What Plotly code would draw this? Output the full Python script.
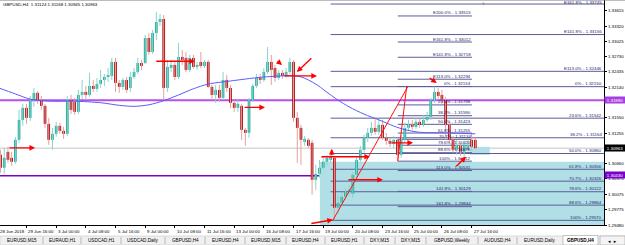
import plotly.graph_objects as go

# ---------------- data ----------------
header_text = "GBPUSD,H4  1.31124 1.31168 1.30945 1.30963"

opens = [1.31066,1.30835,1.30584,1.30892,1.30777,1.30700,1.31124,1.31509,1.31741,1.31548,
         1.31895,1.32030,1.31895,1.31779,1.31432,1.31124,1.31240,1.31394,1.31297,1.31240,
         1.31895,1.31856,1.31664,1.31991,1.32049,1.31991,1.32165,1.32107,1.32203,1.32280,
         1.32338,1.32358,1.32628,1.32223,1.32146,1.32280,1.32126,1.32338,1.32435,1.32608,
         1.32608,1.33090,1.32820,1.33187,1.33399,1.33457,1.32126,1.32512,1.32570,1.32338,
         1.32724,1.32705,1.32473,1.32705,1.32531,1.32628,1.32550,1.32628,1.32146,1.31991,
         1.32088,1.31934,1.32280,1.32126,1.31837,1.31741,1.31779,1.31316,1.31259,1.31895,
         1.32165,1.32319,1.32280,1.32435,1.32628,1.32512,1.32319,1.32416,1.32358,1.32435,
         1.32628,1.31548,1.31355,1.31085,1.31124,1.31066,1.30352,1.30468,1.30584,1.30700,
         1.30738,1.30777,1.29813,1.29909,1.30025,1.30121,1.30083,1.30449,1.30738,1.30931,
         1.31162,1.31259,1.31355,1.31278,1.31413,1.31162,1.31105,1.31047,1.31124,1.30835,
         1.31124,1.31355,1.31413,1.31374,1.31471,1.31413,1.31509,1.31567,1.31895,1.32049,
         1.31991,1.31895,1.31413,1.31124,1.30931,1.31008,1.30892,1.30931,1.31124,1.31124]
highs = [1.31124,1.30931,1.30969,1.30989,1.30892,1.31182,1.31702,1.31818,1.31818,1.31972,
         1.32126,1.32068,1.31972,1.31818,1.31548,1.31355,1.31471,1.31452,1.31374,1.31972,
         1.31991,1.31934,1.32088,1.32280,1.32165,1.32416,1.32280,1.32319,1.32473,1.32396,
         1.32512,1.32705,1.32705,1.32280,1.32319,1.32338,1.32435,1.32512,1.32705,1.32666,
         1.33148,1.33187,1.33245,1.33592,1.33553,1.33534,1.32666,1.32666,1.32628,1.32994,
         1.32859,1.32820,1.32763,1.32763,1.32628,1.32820,1.32666,1.32666,1.32184,1.32184,
         1.32184,1.32435,1.32377,1.32184,1.31895,1.31895,1.31818,1.31355,1.31934,1.32203,
         1.32396,1.32396,1.32512,1.32917,1.32763,1.32570,1.32473,1.32473,1.32512,1.32705,
         1.32666,1.31664,1.31413,1.31201,1.31162,1.31124,1.30642,1.30738,1.30796,1.30835,
         1.30854,1.30815,1.30063,1.30101,1.30198,1.30256,1.30507,1.30796,1.31008,1.31220,
         1.31355,1.31471,1.31548,1.31509,1.31509,1.31259,1.31162,1.31201,1.31162,1.31220,
         1.31452,1.31509,1.31509,1.31548,1.31529,1.31606,1.31664,1.31934,1.32150,1.32126,
         1.32088,1.31953,1.31471,1.31201,1.31124,1.31066,1.31105,1.31124,1.31259,1.31168]
lows = [1.30777,1.30488,1.30468,1.30680,1.30622,1.30661,1.31066,1.31394,1.31432,1.31490,
        1.31760,1.31818,1.31702,1.31355,1.31027,1.30931,1.31182,1.31240,1.31143,1.31201,
        1.31625,1.31606,1.31625,1.31914,1.31895,1.31953,1.32049,1.32049,1.32126,1.32165,
        1.32242,1.32280,1.32049,1.32030,1.32088,1.32030,1.32049,1.32300,1.32396,1.32473,
        1.32589,1.32763,1.32782,1.33052,1.33322,1.31895,1.32049,1.32435,1.32280,1.32300,
        1.32570,1.32435,1.32435,1.32493,1.32473,1.32512,1.32512,1.32126,1.31895,1.31837,
        1.31856,1.31895,1.32049,1.31741,1.31664,1.31664,1.31123,1.31008,1.31162,1.31856,
        1.32126,1.32203,1.32242,1.32396,1.32184,1.32242,1.32280,1.32300,1.32319,1.32396,
        1.31471,1.30680,1.30642,1.31008,1.30969,1.30063,1.30159,1.30391,1.30545,1.30642,
        1.30680,1.29570,1.29697,1.29851,1.29967,1.30044,1.30005,1.30391,1.30680,1.30873,
        1.31085,1.31201,1.31220,1.31220,1.31123,1.31027,1.30989,1.30969,1.30712,1.30777,
        1.31066,1.31297,1.31316,1.31336,1.31355,1.31374,1.31471,1.31509,1.31837,1.31914,
        1.31818,1.31123,1.31066,1.30873,1.30835,1.30815,1.30777,1.30892,1.30931,1.30945]
closes = [1.30835,1.30584,1.30777,1.30738,1.30700,1.31124,1.31509,1.31741,1.31548,1.31895,
          1.32030,1.31895,1.31779,1.31432,1.31124,1.31240,1.31394,1.31297,1.31240,1.31895,
          1.31702,1.31664,1.31991,1.32049,1.31991,1.32165,1.32107,1.32203,1.32280,1.32338,
          1.32358,1.32628,1.32223,1.32146,1.32280,1.32088,1.32338,1.32435,1.32608,1.32550,
          1.33090,1.32820,1.33187,1.33399,1.33457,1.32126,1.32531,1.32570,1.32338,1.32724,
          1.32666,1.32473,1.32705,1.32531,1.32570,1.32550,1.32628,1.32146,1.31991,1.32088,
          1.31934,1.32280,1.32126,1.31837,1.31741,1.31818,1.31316,1.31259,1.31895,1.32165,
          1.32319,1.32280,1.32435,1.32628,1.32473,1.32319,1.32416,1.32358,1.32435,1.32628,
          1.31548,1.31355,1.31124,1.31143,1.31008,1.30352,1.30468,1.30584,1.30700,1.30777,
          1.30796,1.29813,1.29909,1.30025,1.30121,1.30160,1.30449,1.30738,1.30931,1.31162,
          1.31259,1.31355,1.31278,1.31413,1.31162,1.31105,1.31047,1.31124,1.30835,1.31124,
          1.31355,1.31413,1.31374,1.31471,1.31413,1.31509,1.31567,1.31895,1.32049,1.31972,
          1.31895,1.31413,1.31124,1.30931,1.31008,1.30892,1.31027,1.31008,1.30989,1.30963]

ma_bars = [0, 5, 9, 14, 21, 28, 33, 37, 41, 45, 49, 53, 57, 63, 71, 78, 82, 86, 88.5, 92,
           95, 99, 103, 107, 110, 114, 120, 125, 129]
ma_values = [1.3214, 1.3201, 1.3191, 1.3187, 1.3187, 1.3184, 1.3179, 1.3177, 1.3180, 1.3188,
             1.3199, 1.3211, 1.3220, 1.3226, 1.3233, 1.3236, 1.3234, 1.3220, 1.3207, 1.3189,
             1.3176, 1.3162, 1.3151, 1.3139, 1.3132, 1.3127, 1.3126, 1.3125, 1.3124]

first_time_label = "28 Jun 2018"
time_labels = ["29 Jun 16:00", "3 Jul 00:00", "4 Jul 08:00", "5 Jul 16:00",
               "9 Jul 00:00", "10 Jul 08:00", "11 Jul 16:00", "13 Jul 00:00", "16 Jul 08:00",
               "17 Jul 16:00", "19 Jul 00:00", "20 Jul 08:00", "23 Jul 16:00", "25 Jul 00:00",
               "26 Jul 08:00", "27 Jul 16:00"]
time_label_bars = [8, 16, 24, 32, 40, 48, 56, 64, 72, 80, 88, 96, 104, 112, 120, 128]

price_ticks = [1.33615, 1.33320, 1.33025, 1.32730, 1.32435, 1.32140, 1.31550, 1.31255,
               1.30660, 1.30370, 1.30075, 1.29775, 1.29480]

level_upper = 1.31890
level_lower = 1.30430
bid_price = 1.30963

fibA_labels = ["E161.8%", "E141.8%", "E113.0%", "0%", "23.6%", "38.2%", "50.0%", "61.8%",
               "70.7%", "78.6%", "88.6%", "100%"]
fibA_values = [1.33745, 1.33156, 1.32446, 1.32150, 1.31542, 1.31164, 1.30860, 1.30556,
               1.30326, 1.30122, 1.29864, 1.29570]
fibA_anchor_bars = [90.6, 110.8]
fibA_anchor_prices = [1.29570, 1.32150]

fibB_labels = ["E200.0%", "E161.8%", "E141.8%", "E113.0%", "0%", "23.6%", "38.2%", "50.0%",
               "61.8%", "70.7%", "78.6%", "88.6%", "100%", "113.0%", "141.8%", "161.8%"]
fibB_values = [1.33515, 1.33012, 1.32718, 1.32294, 1.32153, 1.31798, 1.31590, 1.31423,
               1.31255, 1.31134, 1.31020, 1.30876, 1.30712, 1.30531, 1.30129, 1.29834]
fibB_anchor_bars = [108.1, 110.5]
fibB_anchor_prices = [1.30712, 1.32153]
fibB_end_bar = 128.1

zone_bars = [87.1, 170.0]
zone_prices = [1.29480, 1.30700]
small_zone_bars = [127.5, 132.9]
small_zone_prices = [1.30834, 1.30989]

# drawn arrows: (tail bar, tail price, head bar, head price)
drawn_arrows = [
    (42.6, 1.32641, 53.4, 1.32641),
    (3.0, 1.30969, 10.3, 1.30969),
    (66.4, 1.31750, 72.3, 1.31750),
    (77.1, 1.32358, 86.3, 1.32358),
    (85.2, 1.32724, 80.9, 1.32435),
    (75.3, 1.32666, 76.9, 1.32570),
    (87.1, 1.30796, 100.6, 1.30796),
    (90.3, 1.30796, 90.3, 1.30950),
    (94.4, 1.30352, 104.1, 1.30352),
    (84.4, 1.29504, 90.6, 1.29581),
    (106.0, 1.31066, 112.2, 1.31066),
    (116.3, 1.32338, 118.6, 1.32223),
    (123.5, 1.30584, 126.5, 1.30796),
]

tab_names = ["EURUSD,M15", "EURAUD,H1", "USDCAD,H1", "USDCAD,Daily", "GBPUSD,H4", "EURUSD,H4",
             "EURUSD,M15", "EURUSD,H4", "EURUSD,H1", "DXY,M15", "DXY,M15", "GBPUSD,Weekly",
             "AUDUSD,H4", "EURUSD,Daily", "GBPUSD,H4"]

# ---------------- style / layout helpers ----------------
W, H = 625, 245
PLOT_R, PLOT_B = 604, 225
FONT = "Liberation Sans"
FS = 4.4
BULL_BODY, BULL_WICK = "#1fa898", "#86d6cc"
BEAR_BODY, BEAR_WICK = "#b00000", "#e6a0a0"
FIB_LINE, FIB_TEXT = "#5c5c98", "#1e1e66"
tab_seps = [43, 81, 121, 165, 205, 245, 286, 325, 364, 395, 426, 478, 517, 563]
X_RANGE = [0.86, 163.7]
Y_RANGE = [1.29480, 1.33823]


def xp(px):
    return px / PLOT_R


def yp(py):
    return (PLOT_B - py) / PLOT_B


fig = go.Figure()

bwx, bwy, rwx, rwy = [], [], [], []
bx, bb, bh, rx, rb, rh = [], [], [], [], [], []
for i, (o, h, l, c) in enumerate(zip(opens, highs, lows, closes)):
    body = max(abs(c - o), 0.00010)
    if c >= o:
        bwx += [i, i, None]; bwy += [l, h, None]
        bx.append(i); bb.append(min(o, c)); bh.append(body)
    else:
        rwx += [i, i, None]; rwy += [l, h, None]
        rx.append(i); rb.append(min(o, c)); rh.append(body)

fig.add_trace(go.Scatter(x=bwx, y=bwy, mode="lines", line=dict(color=BULL_WICK, width=1),
                         hoverinfo="skip"))
fig.add_trace(go.Scatter(x=rwx, y=rwy, mode="lines", line=dict(color=BEAR_WICK, width=1),
                         hoverinfo="skip"))
fig.add_trace(go.Bar(x=bx, y=bh, base=bb, width=0.72,
                     marker=dict(color=BULL_BODY, line=dict(width=0))))
fig.add_trace(go.Bar(x=rx, y=rh, base=rb, width=0.72,
                     marker=dict(color=BEAR_BODY, line=dict(width=0))))
fig.add_trace(go.Scatter(x=ma_bars, y=ma_values, mode="lines",
                         line=dict(color="#5a5aff", width=1, shape="spline", smoothing=0.8),
                         hoverinfo="skip"))

shapes = []
annotations = []

shapes.append(dict(type="rect", xref="x", yref="y", x0=zone_bars[0], x1=zone_bars[1],
                   y0=zone_prices[0], y1=zone_prices[1], fillcolor="#b0e0e6",
                   line=dict(width=0), layer="below"))
shapes.append(dict(type="rect", xref="x", yref="y", x0=small_zone_bars[0], x1=small_zone_bars[1],
                   y0=small_zone_prices[0], y1=small_zone_prices[1], fillcolor="#b0e0e6",
                   line=dict(width=0), layer="below"))

shapes.append(dict(type="line", xref="paper", yref="y", x0=0, x1=1, y0=bid_price, y1=bid_price,
                   line=dict(color="#c4c4c4", width=1), layer="below"))

for k, (lab, v) in enumerate(zip(fibA_labels, fibA_values)):
    shapes.append(dict(type="line", xref="x", yref="y", x0=fibA_anchor_bars[0] - 0.6,
                       x1=X_RANGE[1], y0=v, y1=v, line=dict(color=FIB_LINE, width=1),
                       layer="below"))
    annotations.append(dict(xref="x", yref="y", x=X_RANGE[1] - 0.3, y=v, xanchor="right",
                            yanchor="bottom", yshift=-2.2 if k == 0 else -0.5,
                            text=f"{lab} - {v:.5f}", showarrow=False,
                            borderpad=0, font=dict(family=FONT, size=FS, color=FIB_TEXT)))
for lab, v in zip(fibB_labels, fibB_values):
    shapes.append(dict(type="line", xref="x", yref="y", x0=fibB_anchor_bars[0],
                       x1=fibB_end_bar, y0=v, y1=v, line=dict(color=FIB_LINE, width=1),
                       layer="below"))
    annotations.append(dict(xref="x", yref="y", x=fibB_end_bar, y=v, xanchor="right",
                            yanchor="bottom", yshift=-0.5, text=f"{lab} - {v:.5f}",
                            showarrow=False, borderpad=0,
                            font=dict(family=FONT, size=FS, color=FIB_TEXT)))

shapes.append(dict(type="line", xref="paper", yref="y", x0=0, x1=1, y0=level_upper, y1=level_upper,
                   line=dict(color="#b552ec", width=2), layer="below"))
shapes.append(dict(type="line", xref="paper", yref="y", x0=0, x1=1, y0=level_lower, y1=level_lower,
                   line=dict(color="#7d00d0", width=1.5), layer="below"))

shapes.append(dict(type="line", xref="x", yref="y", x0=fibA_anchor_bars[0], x1=fibA_anchor_bars[1],
                   y0=fibA_anchor_prices[0], y1=fibA_anchor_prices[1],
                   line=dict(color="#ff1010", width=1)))
shapes.append(dict(type="line", xref="x", yref="y", x0=fibB_anchor_bars[0], x1=fibB_anchor_bars[1],
                   y0=fibB_anchor_prices[0], y1=fibB_anchor_prices[1],
                   line=dict(color="#ff1010", width=1)))

for tx, ty, hx, hy in drawn_arrows:
    annotations.append(dict(x=hx, y=hy, ax=tx, ay=ty, xref="x", yref="y", axref="x", ayref="y",
                            text="", showarrow=True, arrowhead=2, arrowsize=0.8,
                            arrowwidth=1.4, arrowcolor="#ff0000", standoff=0))

annotations.append(dict(xref="paper", yref="paper", x=xp(-1.5), y=yp(231), xanchor="left",
                        yanchor="middle", text=first_time_label, showarrow=False, borderpad=0,
                        font=dict(family=FONT, size=FS, color="#000")))
for lab, b in zip(time_labels, time_label_bars):
    annotations.append(dict(xref="x", yref="paper", x=b, y=yp(231), xanchor="left",
                            yanchor="middle", xshift=1, text=lab, showarrow=False,
                            borderpad=0, font=dict(family=FONT, size=FS, color="#000")))

for v, bg in [(level_upper, "#a63fe0"), (bid_price, "#000000"), (level_lower, "#7a00cc")]:
    annotations.append(dict(xref="paper", yref="y", x=1.0, y=v, xanchor="left", yanchor="middle",
                            yshift=1 if v == level_lower else 0,
                            text=f"{v:.5f}", showarrow=False, bgcolor=bg, borderpad=0.5,
                            width=19, align="center",
                            font=dict(family=FONT, size=FS, color="#ffffff")))

annotations.append(dict(xref="paper", yref="paper", x=xp(2), y=yp(4.5), xanchor="left",
                        yanchor="middle", text=header_text, showarrow=False, borderpad=0,
                        font=dict(family=FONT, size=FS, color="#000")))
annotations.append(dict(xref="paper", yref="paper", x=xp(483), y=yp(0.5), xanchor="center",
                        yanchor="top", text="▼", showarrow=False, borderpad=0,
                        font=dict(family="DejaVu Sans", size=3.5, color="#909090")))

shapes.append(dict(type="line", xref="paper", yref="paper", x0=0, x1=xp(W), y0=1, y1=1,
                   line=dict(color="#7a7a7a", width=1.2)))

shapes.append(dict(type="rect", xref="paper", yref="paper", x0=0, x1=xp(W), y0=yp(H), y1=yp(236),
                   fillcolor="#f0f0f0", line=dict(color="#c8c8c8", width=0.6)))
shapes.append(dict(type="rect", xref="paper", yref="paper", x0=xp(563), x1=xp(598), y0=yp(H),
                   y1=yp(235.5), fillcolor="#ffffff", line=dict(color="#a0a0a0", width=0.6)))
shapes.append(dict(type="rect", xref="paper", yref="paper", x0=xp(600), x1=xp(W), y0=yp(H),
                   y1=yp(236), fillcolor="#f4f4f4", line=dict(color="#a0a0a0", width=0.6)))
for s in tab_seps[:-1]:
    shapes.append(dict(type="line", xref="paper", yref="paper", x0=xp(s), x1=xp(s),
                       y0=yp(244), y1=yp(237), line=dict(color="#a8a8a8", width=0.8)))
edges = [0] + tab_seps + [598]
for k, name in enumerate(tab_names):
    cx = (edges[k] + edges[k + 1]) / 2
    active = k == len(tab_names) - 1
    annotations.append(dict(xref="paper", yref="paper", x=xp(cx), y=yp(240.8), xanchor="center",
                            yanchor="middle", text=f"<b>{name}</b>" if active else name,
                            showarrow=False, borderpad=0,
                            font=dict(family=FONT, size=FS + 0.2, color="#000")))
annotations.append(dict(xref="paper", yref="paper", x=xp(612.5), y=yp(240.5), xanchor="center",
                        yanchor="middle", text="◂  ▸", showarrow=False, borderpad=0,
                        font=dict(family="DejaVu Sans", size=5, color="#000")))

fig.update_layout(
    width=W, height=H,
    margin=dict(l=0, r=W - PLOT_R, t=0, b=H - PLOT_B),
    paper_bgcolor="white", plot_bgcolor="white",
    showlegend=False, barmode="overlay",
    font=dict(family=FONT, size=FS, color="#000"),
    shapes=shapes, annotations=annotations,
    xaxis=dict(range=X_RANGE, showgrid=False, zeroline=False, showline=True,
               linecolor="#000", linewidth=1, ticks="outside", ticklen=2, tickcolor="#000",
               tickvals=time_label_bars, showticklabels=False, fixedrange=True),
    yaxis=dict(range=Y_RANGE, side="right", showgrid=False, zeroline=False, showline=True,
               linecolor="#000", linewidth=1, ticks="outside", ticklen=2, tickcolor="#000",
               tickvals=price_ticks, ticktext=[f"{v:.5f}" for v in price_ticks],
               tickfont=dict(family=FONT, size=FS, color="#000"), fixedrange=True),
)

fig.write_html("out.html")
